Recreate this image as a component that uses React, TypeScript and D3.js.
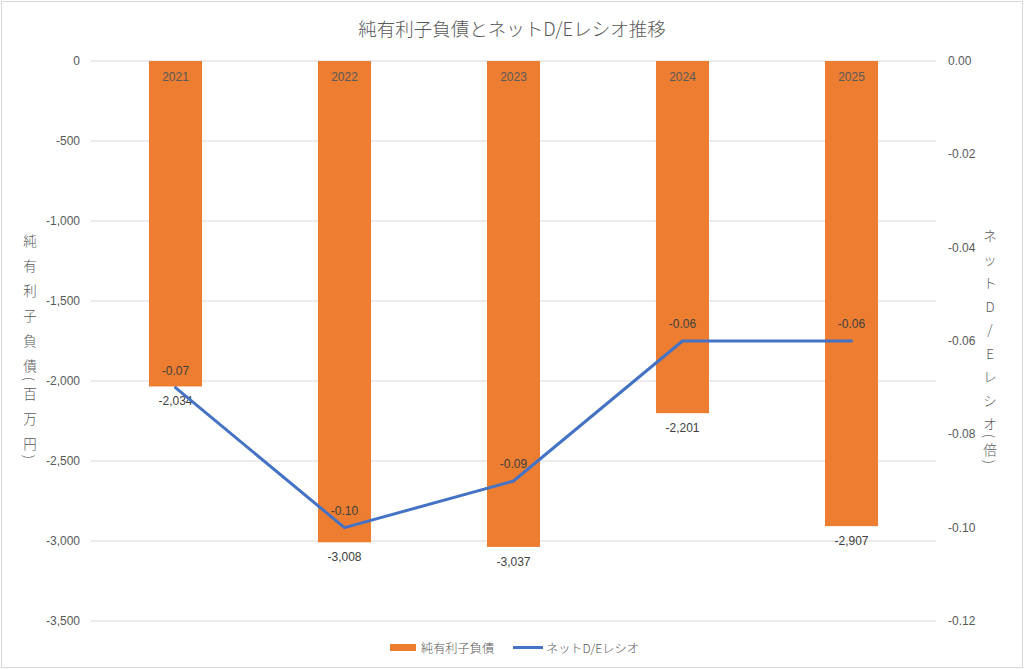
import React from "react";
import * as d3 from "d3";

const categories = ["2021", "2022", "2023", "2024", "2025"];
const netDebt = [-2034, -3008, -3037, -2201, -2907];
const deRatio = [-0.07, -0.1, -0.09, -0.06, -0.06];
const leftTicks = [0, -500, -1000, -1500, -2000, -2500, -3000, -3500];
const rightTicks = [0, -0.02, -0.04, -0.06, -0.08, -0.1, -0.12];

const title = "純有利子負債とネットD/Eレシオ推移";
const leftTitle = ["純", "有", "利", "子", "負", "債", "(", "百", "万", "円", ")"];
const rightTitle = ["ネ", "ッ", "ト", "D", "/", "E", "レ", "シ", "オ", "(", "倍", ")"];
const legendLabels = ["純有利子負債", "ネットD/Eレシオ"];

const W = 1024;
const H = 669;
const plot = { left: 91, right: 936, top: 61, bottom: 621 };

const locale = d3.formatLocale({
  decimal: ".",
  thousands: ",",
  grouping: [3],
  currency: ["", ""],
  minus: "-",
});
const fmtInt = locale.format(",");
const fmt2 = locale.format(".2f");

const ORANGE = "#ED7D31";
const BLUE = "#4472C4";
const GRID = "#D9D9D9";
const TXT = "#595959";
const LBL = "#404040";
const NUMFONT = "'Liberation Sans', Arial, sans-serif";
const JPFONT = "'Noto Sans CJK JP', 'Noto Sans', sans-serif";

export default function App() {
  const x = d3.scaleBand<string>().domain(categories).range([plot.left, plot.right]).padding(0);
  const yL = d3.scaleLinear().domain([-3500, 0]).range([plot.bottom, plot.top]);
  const yR = d3.scaleLinear().domain([-0.12, 0]).range([plot.bottom, plot.top]);
  const barW = x.bandwidth() * 0.314;
  const cx = (c: string) => (x(c) as number) + x.bandwidth() / 2;

  const line = d3
    .line<number>()
    .x((_, i) => cx(categories[i]))
    .y((d) => yR(d));

  const stackY = (chars: string[], start: number, full: number, half: number) => {
    const ys: number[] = [];
    let y = start;
    chars.forEach((ch, i) => {
      if (i > 0) {
        const prevHalf = chars[i - 1] === "(" || chars[i - 1] === ")";
        const curHalf = ch === "(" || ch === ")";
        y += prevHalf || curHalf ? half : full;
      }
      ys.push(y);
    });
    return ys;
  };
  const leftYs = stackY(leftTitle, 240, 25, 14);
  const rightYs = stackY(rightTitle, 235, 23.5, 13);

  return (
    <svg
      width={W}
      height={H}
      style={{ position: "absolute", left: 0, top: 0, background: "#fff" }}
    >
      <rect x={1.5} y={1.5} width={W - 3} height={H - 3} fill="#fff" stroke="#D9D9D9" strokeWidth={1} />

      <text x={512} y={28} textAnchor="middle" dominantBaseline="central" fontFamily={JPFONT} fontWeight={300} fontSize={18.5} fill={TXT}>
        {title}
      </text>

      {leftTicks.map((t) => (
        <line key={t} x1={plot.left} x2={plot.right} y1={yL(t)} y2={yL(t)} stroke={GRID} strokeWidth={1} />
      ))}

      {leftTicks.map((t) => (
        <text key={t} x={80} y={yL(t)} textAnchor="end" dominantBaseline="central" fontFamily={NUMFONT} fontSize={12} fill={TXT}>
          {fmtInt(t)}
        </text>
      ))}
      {rightTicks.map((t) => (
        <text key={t} x={948} y={yR(t)} textAnchor="start" dominantBaseline="central" fontFamily={NUMFONT} fontSize={12} fill={TXT}>
          {fmt2(t)}
        </text>
      ))}

      {netDebt.map((v, i) => (
        <rect
          key={categories[i]}
          x={cx(categories[i]) - barW / 2}
          y={yL(0)}
          width={barW}
          height={yL(v) - yL(0)}
          fill={ORANGE}
        />
      ))}

      {categories.map((c) => (
        <text key={c} x={cx(c)} y={77} textAnchor="middle" dominantBaseline="central" fontFamily={NUMFONT} fontSize={12} fill={TXT}>
          {c}
        </text>
      ))}

      {netDebt.map((v, i) => (
        <text
          key={categories[i]}
          x={cx(categories[i])}
          y={yL(v) + 15}
          textAnchor="middle"
          dominantBaseline="central"
          fontFamily={NUMFONT}
          fontSize={12}
          fill={LBL}
        >
          {fmtInt(v)}
        </text>
      ))}

      <path d={line(deRatio) as string} fill="none" stroke={BLUE} strokeWidth={3} strokeLinejoin="round" strokeLinecap="round" />

      {deRatio.map((v, i) => (
        <text
          key={categories[i]}
          x={cx(categories[i])}
          y={yR(v) - 17}
          textAnchor="middle"
          dominantBaseline="central"
          fontFamily={NUMFONT}
          fontSize={12}
          fill={LBL}
        >
          {fmt2(v)}
        </text>
      ))}

      {leftTitle.map((ch, i) => (
        <text
          key={i}
          x={30}
          y={leftYs[i]}
          textAnchor="middle"
          dominantBaseline="central"
          fontFamily={JPFONT}
          fontWeight={300}
          fontSize={13.5}
          fill={TXT}
          transform={ch === "(" || ch === ")" ? `rotate(90 30 ${leftYs[i]})` : undefined}
        >
          {ch}
        </text>
      ))}

      {rightTitle.map((ch, i) => (
        <text
          key={i}
          x={990}
          y={rightYs[i]}
          textAnchor="middle"
          dominantBaseline="central"
          fontFamily={JPFONT}
          fontWeight={300}
          fontSize={13.5}
          fill={TXT}
          transform={ch === "(" || ch === ")" ? `rotate(90 990 ${rightYs[i]})` : undefined}
        >
          {ch}
        </text>
      ))}

      <rect x={390} y={644} width={26} height={7} fill={ORANGE} />
      <text x={421} y={647.5} dominantBaseline="central" fontFamily={JPFONT} fontWeight={300} fontSize={12.2} fill={TXT}>
        {legendLabels[0]}
      </text>
      <line x1={513} x2={543} y1={647.5} y2={647.5} stroke={BLUE} strokeWidth={3} />
      <text x={546} y={647.5} dominantBaseline="central" fontFamily={JPFONT} fontWeight={300} fontSize={12.2} fill={TXT}>
        {legendLabels[1]}
      </text>
    </svg>
  );
}
